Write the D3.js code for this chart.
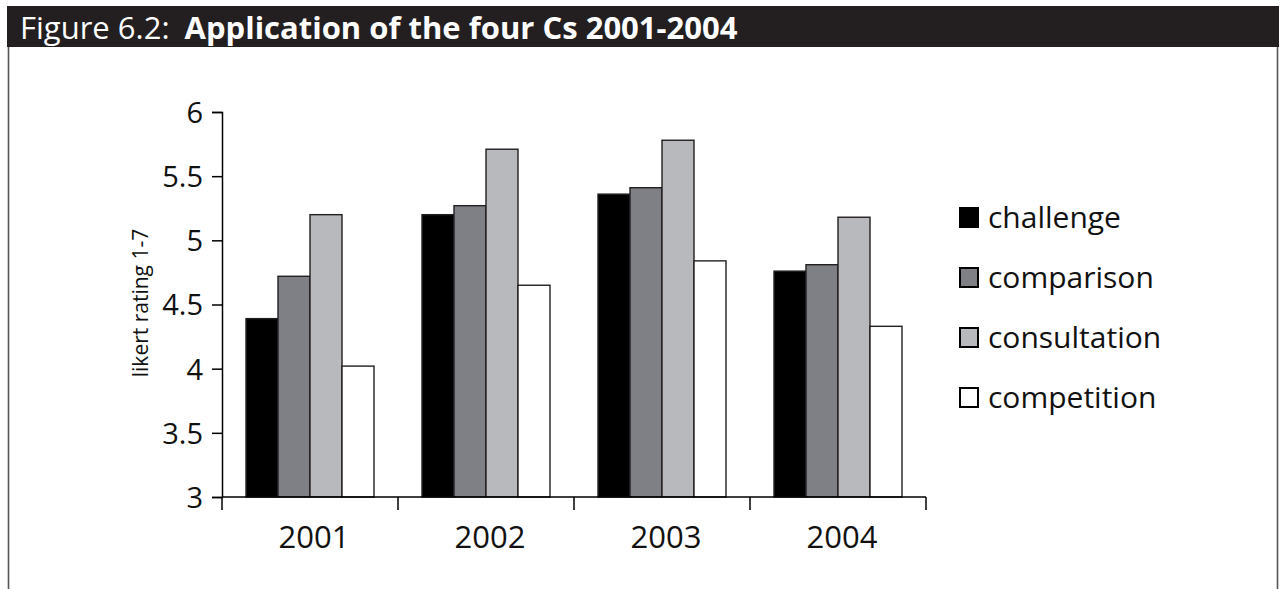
<!DOCTYPE html>
<html>
<head>
<meta charset="utf-8">
<script src="https://cdn.jsdelivr.net/npm/d3@7"></script>
<style>
  html, body { margin: 0; padding: 0; background: #fff; }
  svg { display: block; }
  text { font-family: "Open Sans", "Noto Sans", sans-serif; }
</style>
</head>
<body>
<svg id="chart" width="1284" height="589"></svg>
<script>
// Mean ratings of the four Cs, by year
const years = ["2001", "2002", "2003", "2004"];
const seriesNames = ["challenge", "comparison", "consultation", "competition"];
const challenge    = [4.39, 5.20, 5.36, 4.76];
const comparison   = [4.72, 5.27, 5.41, 4.81];
const consultation = [5.20, 5.71, 5.78, 5.18];
const competition  = [4.02, 4.65, 4.84, 4.33];
const yTicks = [3, 3.5, 4, 4.5, 5, 5.5, 6];
const seriesFill = ["#000000", "#7f8085", "#b8b9bd", "#ffffff"];

const values = [challenge, comparison, consultation, competition];
const rows = years.map((yr, i) => ({
  year: yr,
  bars: seriesNames.map((s, j) => ({ key: s, value: values[j][i], fill: seriesFill[j] }))
}));

const svg = d3.select("#chart");

// Frame and heading bar
svg.append("line").attr("x1", 8.5).attr("x2", 8.5).attr("y1", 40).attr("y2", 589)
  .attr("stroke", "#555").attr("stroke-width", 1.6);
svg.append("line").attr("x1", 1277.5).attr("x2", 1277.5).attr("y1", 40).attr("y2", 589)
  .attr("stroke", "#555").attr("stroke-width", 1.6);
svg.append("rect").attr("x", 7).attr("y", 6).attr("width", 1272).attr("height", 41)
  .attr("fill", "#231f20");

const title = svg.append("text").attr("x", 20).attr("y", 39)
  .attr("fill", "#fff").attr("font-size", 31);
title.append("tspan").text("Figure 6.2:");
title.append("tspan").attr("dx", 15).attr("font-weight", "bold")
  .text("Application of the four Cs 2001-2004");

// Scales
const x0 = d3.scaleBand().domain(years).range([222, 926]).paddingInner(0).paddingOuter(0);
const x1 = d3.scaleBand().domain(seriesNames).range([0, x0.bandwidth()])
  .paddingInner(0).paddingOuter(0.75);
const y = d3.scaleLinear().domain([3, 6]).range([497, 112]);

// Bars
const groups = svg.append("g").selectAll("g").data(rows).join("g")
  .attr("transform", d => `translate(${x0(d.year)},0)`);
groups.selectAll("rect").data(d => d.bars).join("rect")
  .attr("x", d => x1(d.key))
  .attr("y", d => y(d.value))
  .attr("width", x1.bandwidth())
  .attr("height", d => y(3) - y(d.value))
  .attr("fill", d => d.fill)
  .attr("stroke", "#231f20")
  .attr("stroke-width", 1.4);

// Y axis
const yAxis = svg.append("g").attr("transform", "translate(222,0)")
  .call(d3.axisLeft(y).tickValues(yTicks).tickSize(10).tickPadding(9)
    .tickFormat(d3.format("~g")));
yAxis.select(".domain").attr("stroke", "#000").attr("stroke-width", 1.5);
yAxis.selectAll(".tick line").attr("stroke", "#000").attr("stroke-width", 1.5);
yAxis.selectAll(".tick text").attr("font-size", 29).attr("fill", "#111")
  .attr("font-family", "'Open Sans', sans-serif").attr("dy", "0.36em");

// X axis: ticks sit on the band boundaries
const xAxis = svg.append("g").attr("transform", "translate(0,497)");
xAxis.append("line").attr("x1", 222).attr("x2", 926).attr("stroke", "#000").attr("stroke-width", 1.5);
const bounds = years.map(d => x0(d)).concat([x0.range()[1]]);
xAxis.selectAll("line.tick").data(bounds).join("line").attr("class", "tick")
  .attr("x1", d => d).attr("x2", d => d).attr("y1", 0).attr("y2", 13)
  .attr("stroke", "#000").attr("stroke-width", 1.5);
xAxis.selectAll("text").data(years).join("text")
  .attr("x", d => x0(d) + x0.bandwidth() / 2 + 4)
  .attr("y", 51)
  .attr("text-anchor", "middle")
  .attr("font-size", 31).attr("fill", "#111")
  .text(d => d);

// Y axis title
svg.append("text")
  .attr("transform", "translate(148,303) rotate(-90)")
  .attr("text-anchor", "middle")
  .attr("font-size", 21).attr("fill", "#111")
  .text("likert rating 1-7");

// Legend
const legend = svg.append("g").selectAll("g").data(seriesNames).join("g")
  .attr("transform", (d, i) => `translate(959,${207 + i * 60})`);
legend.append("rect")
  .attr("x", 1).attr("y", 1).attr("width", 18).attr("height", 19)
  .attr("fill", (d, i) => seriesFill[i])
  .attr("stroke", "#000").attr("stroke-width", 2);
legend.append("text")
  .attr("x", 29).attr("y", 10.5).attr("dy", "0.36em")
  .attr("font-size", 30).attr("fill", "#111")
  .text(d => d);
</script>
</body>
</html>
